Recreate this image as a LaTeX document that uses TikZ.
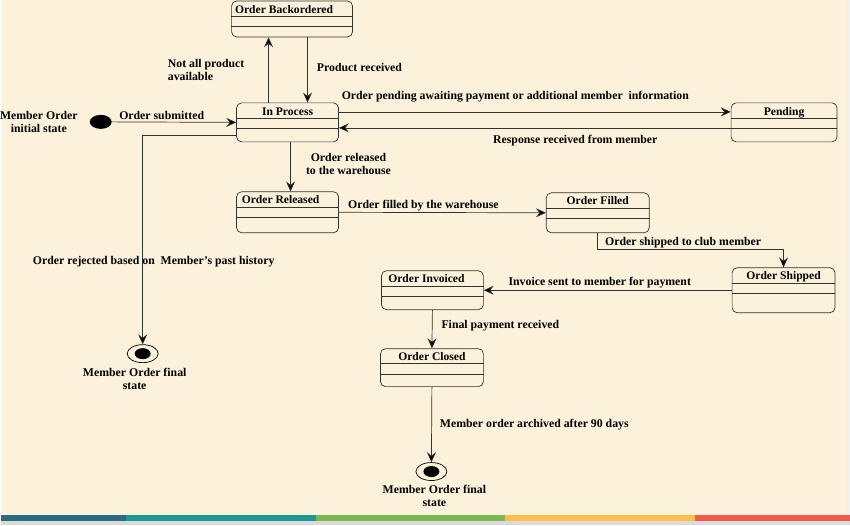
\documentclass[tikz,border=0pt]{standalone}
\usepackage{fontspec}
\setmainfont{Liberation Serif}
\usetikzlibrary{arrows.meta,shapes.geometric}
\definecolor{parchment}{HTML}{FCF2DB}
\definecolor{boxline}{HTML}{333333}
\definecolor{barA}{HTML}{2B6B7F}
\definecolor{barB}{HTML}{1F9893}
\definecolor{barC}{HTML}{7DB655}
\definecolor{barD}{HTML}{FBC04B}
\definecolor{barE}{HTML}{F25A49}

\begin{document}
\begin{tikzpicture}[x=1pt,y=-1pt]
\tikzset{state/.style={draw=boxline, line width=0.7pt, rounded corners=5pt, inner sep=0pt},
         title/.style={font=\bfseries\fontsize{11.6}{13}\selectfont, anchor=base},
         lbl/.style={font=\bfseries\fontsize{11.8}{13}\selectfont, align=center, inner sep=0pt},
         sep/.style={draw=boxline, line width=0.7pt},
         trans/.style={draw=boxline, line width=0.7pt, -{Stealth[length=10pt, width=9pt, inset=3.5pt, fill=black]}},
         startst/.style={ellipse, fill=black, minimum width=22pt, minimum height=14pt, inner sep=0pt},
         endst/.style={ellipse, draw=black, fill=parchment, line width=0.7pt, minimum width=31pt, minimum height=18pt, inner sep=0pt}}
\fill[parchment] (0,0) rectangle (850,526);
\fill[white!94!black] (847,0) rectangle (850,515);
\fill[white!86!black] (0,522) rectangle (850,526);
\fill[barA] (0,515) rectangle (125,522);
\fill[barB] (125,515) rectangle (315,522);
\fill[barC] (315,515) rectangle (505,522);
\fill[barD] (505,515) rectangle (695,522);
\fill[barE] (695,515) rectangle (850,522);

\node[state, minimum width=121pt, minimum height=36pt] (backorder) at (291.5,19) {};
\node[state, minimum width=102pt, minimum height=39pt] (inproc) at (287,122.5) {};
\node[state, minimum width=106pt, minimum height=39pt] (pending) at (784,122.5) {};
\node[state, minimum width=102pt, minimum height=41pt] (released) at (287,212.5) {};
\node[state, minimum width=103pt, minimum height=40pt] (filled) at (597.5,213) {};
\node[state, minimum width=103pt, minimum height=45pt] (shipped) at (783.5,290.5) {};
\node[state, minimum width=102pt, minimum height=39pt] (invoiced) at (432,290.5) {};
\node[state, minimum width=103pt, minimum height=38pt] (closed) at (431.5,368) {};
\foreach \s in {backorder,inproc,pending,released,filled,shipped,invoiced,closed}{
  \draw[sep] ([yshift=-15.5pt]\s.north west) -- ([yshift=-15.5pt]\s.north east);
  \draw[sep] ([yshift=-26pt]\s.north west) -- ([yshift=-26pt]\s.north east);
}
\node[title] (tbackorder) at ([xshift=-8pt,yshift=-12.5pt]backorder.north) {Order Backordered};
\node[title] (tinproc) at ([yshift=-12.5pt]inproc.north) {In Process};
\node[title] (tpending) at ([yshift=-12.5pt]pending.north) {Pending};
\node[title] (treleased) at ([xshift=-7pt,yshift=-12.5pt]released.north) {Order Released};
\node[title] (tfilled) at ([yshift=-12.5pt]filled.north) {Order Filled};
\node[title] (tshipped) at ([yshift=-12.5pt]shipped.north) {Order Shipped};
\node[title] (tinvoiced) at ([xshift=-6pt,yshift=-12.5pt]invoiced.north) {Order Invoiced};
\node[title] (tclosed) at ([yshift=-12.5pt]closed.north) {Order Closed};

\node[startst] (init) at (100,122) {};
\node[endst] (finalA) at (142,354) {};
\node[ellipse, fill=black, minimum width=16pt, minimum height=11pt, inner sep=0pt] (dotA) at (finalA) {};
\node[endst] (finalB) at (431,472) {};
\node[ellipse, fill=black, minimum width=16pt, minimum height=11pt, inner sep=0pt] (dotB) at (finalB) {};

\draw[trans] (init.east) -- (inproc.west);
\draw[trans] ([xshift=-19pt]inproc.north) -- ([xshift=-19pt]inproc.north |- backorder.south);
\draw[trans] ([xshift=20pt]inproc.north |- backorder.south) -- ([xshift=20pt]inproc.north);
\draw[trans] ([yshift=10.5pt]inproc.east) -- ([yshift=10.5pt]inproc.east -| pending.west);
\draw[trans] ([yshift=-5.5pt]pending.west) -- ([yshift=-5.5pt]pending.west -| inproc.east);
\draw[trans] ([yshift=-12.5pt]inproc.west) -| (finalA.north);
\draw[trans] ([xshift=3pt]inproc.south) -- ([xshift=3pt]inproc.south |- released.north);
\draw[trans] (released.east) -- (filled.west);
\draw[trans] (filled.south) |- ([yshift=18pt]shipped.north) -- (shipped.north);
\draw[trans] (shipped.west) -- (invoiced.east);
\draw[trans] (invoiced.south) -- (closed.north);
\draw[trans] (closed.south) -- (finalB.north);

\node[lbl] (linit) at (38,122) {Member Order\\initial state};
\node[lbl] (lsubmit) at (161,116) {Order submitted};
\node[lbl, align=left, anchor=west] (lnotall) at (167,70) {Not all product\\available};
\node[lbl] (lreceived) at (359,68) {Product received};
\node[lbl] (lpending) at (515,97) {Order pending awaiting payment or additional member\ \ information};
\node[lbl] (lresponse) at (575,141) {Response received from member};
\node[lbl] (lrelease) at (348,164) {Order released\\to the warehouse};
\node[lbl] (lreject) at (153,262) {Order rejected based on\ \ Member's past history};
\node[lbl, align=center] (lfinalA) at (134,379) {Member Order final\\state};
\node[lbl] (lfill) at (423,206) {Order filled by the warehouse};
\node[lbl] (lship) at (683,243) {Order shipped to club member};
\node[lbl] (linvoice) at (599.5,283) {Invoice sent to member for payment};
\node[lbl] (lpay) at (500,326) {Final payment received};
\node[lbl] (larchive) at (534,425) {Member order archived after 90 days};
\node[lbl] (lfinalB) at (434,496) {Member Order final\\state};
\end{tikzpicture}
\end{document}
